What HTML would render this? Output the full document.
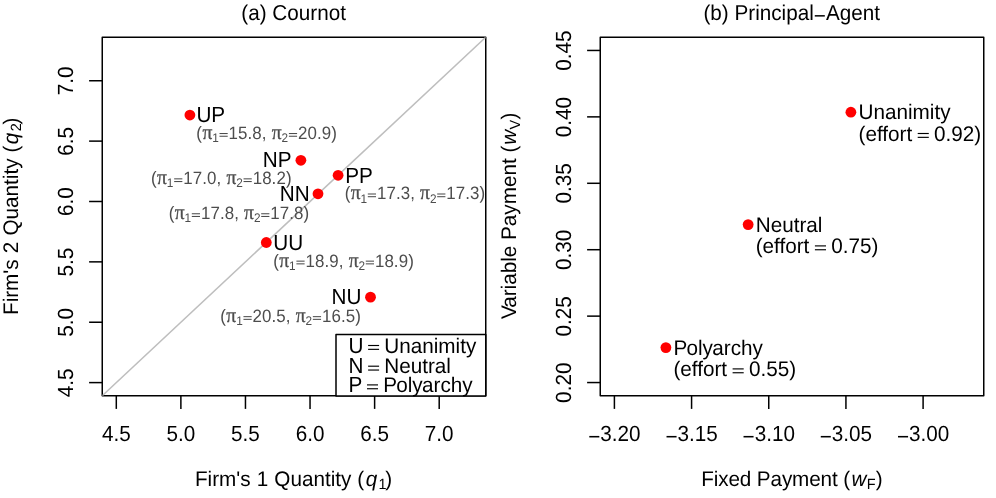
<!DOCTYPE html>
<html><head><meta charset="utf-8"><title>Figure</title>
<style>html,body{margin:0;padding:0;background:#fff;}svg{display:block;}text{font-family:"Liberation Sans",sans-serif;fill:#000;text-rendering:geometricPrecision;filter:grayscale(1);}.g{fill:#4d4d4d;}.pi{font-family:"Liberation Serif",serif;stroke:#4d4d4d;stroke-width:0.3px;}.it{font-style:italic;}</style></head><body>
<svg width="996" height="498" viewBox="0 0 996 498">
<rect x="0" y="0" width="996" height="498" fill="#fff"/>
<line x1="116.30" y1="395.75" x2="116.30" y2="408.90" stroke="#000" stroke-width="1.5" stroke-linecap="butt"/>
<text transform="translate(116.30 440.90) scale(1 1.06)" font-size="20.7" text-anchor="middle">4.5</text>
<line x1="102.25" y1="382.60" x2="89.10" y2="382.60" stroke="#000" stroke-width="1.5" stroke-linecap="butt"/>
<text transform="translate(72.70 382.80) rotate(-90) scale(1 1.06)" font-size="20.7" text-anchor="middle">4.5</text>
<line x1="180.88" y1="395.75" x2="180.88" y2="408.90" stroke="#000" stroke-width="1.5" stroke-linecap="butt"/>
<text transform="translate(180.88 440.90) scale(1 1.06)" font-size="20.7" text-anchor="middle">5.0</text>
<line x1="102.25" y1="322.23" x2="89.10" y2="322.23" stroke="#000" stroke-width="1.5" stroke-linecap="butt"/>
<text transform="translate(72.70 322.43) rotate(-90) scale(1 1.06)" font-size="20.7" text-anchor="middle">5.0</text>
<line x1="245.46" y1="395.75" x2="245.46" y2="408.90" stroke="#000" stroke-width="1.5" stroke-linecap="butt"/>
<text transform="translate(245.46 440.90) scale(1 1.06)" font-size="20.7" text-anchor="middle">5.5</text>
<line x1="102.25" y1="261.86" x2="89.10" y2="261.86" stroke="#000" stroke-width="1.5" stroke-linecap="butt"/>
<text transform="translate(72.70 262.06) rotate(-90) scale(1 1.06)" font-size="20.7" text-anchor="middle">5.5</text>
<line x1="310.04" y1="395.75" x2="310.04" y2="408.90" stroke="#000" stroke-width="1.5" stroke-linecap="butt"/>
<text transform="translate(310.04 440.90) scale(1 1.06)" font-size="20.7" text-anchor="middle">6.0</text>
<line x1="102.25" y1="201.49" x2="89.10" y2="201.49" stroke="#000" stroke-width="1.5" stroke-linecap="butt"/>
<text transform="translate(72.70 201.69) rotate(-90) scale(1 1.06)" font-size="20.7" text-anchor="middle">6.0</text>
<line x1="374.62" y1="395.75" x2="374.62" y2="408.90" stroke="#000" stroke-width="1.5" stroke-linecap="butt"/>
<text transform="translate(374.62 440.90) scale(1 1.06)" font-size="20.7" text-anchor="middle">6.5</text>
<line x1="102.25" y1="141.12" x2="89.10" y2="141.12" stroke="#000" stroke-width="1.5" stroke-linecap="butt"/>
<text transform="translate(72.70 141.32) rotate(-90) scale(1 1.06)" font-size="20.7" text-anchor="middle">6.5</text>
<line x1="439.20" y1="395.75" x2="439.20" y2="408.90" stroke="#000" stroke-width="1.5" stroke-linecap="butt"/>
<text transform="translate(439.20 440.90) scale(1 1.06)" font-size="20.7" text-anchor="middle">7.0</text>
<line x1="102.25" y1="80.75" x2="89.10" y2="80.75" stroke="#000" stroke-width="1.5" stroke-linecap="butt"/>
<text transform="translate(72.70 80.95) rotate(-90) scale(1 1.06)" font-size="20.7" text-anchor="middle">7.0</text>
<rect x="102.25" y="37.25" width="383.50" height="358.50" fill="none" stroke="#000" stroke-width="1.5" stroke-linejoin="round"/>
<clipPath id="cl"><rect x="102.25" y="37.25" width="383.50" height="358.50"/></clipPath>
<line x1="51.72" y1="442.97" x2="568.36" y2="-39.99" stroke="#bebebe" stroke-width="1.5" clip-path="url(#cl)"/>
<circle cx="189.90" cy="115.05" r="5.4" fill="#ff0000"/>
<text transform="translate(196.40 122.40) scale(1 1.06)" font-size="20.7" text-anchor="start">UP</text>
<g transform="translate(196.35 139.00)">
<text transform="scale(1 1.06)" font-size="16.9" class="g" letter-spacing="0.09"><tspan x="0.00" y="0">(</tspan><tspan class="pi" font-size="19.6" x="6.07" y="0">π</tspan><tspan font-size="11.83" x="15.85" y="2.9">1</tspan><tspan x="32.28" y="0">15.8, </tspan><tspan class="pi" font-size="19.6" x="75.46" y="0">π</tspan><tspan font-size="11.83" x="85.24" y="2.9">2</tspan><tspan x="101.67" y="0">20.9)</tspan></text>
<line x1="23.15" y1="-5.45" x2="31.36" y2="-5.45" stroke="#4d4d4d" stroke-width="1.05"/>
<line x1="23.15" y1="-2.75" x2="31.36" y2="-2.75" stroke="#4d4d4d" stroke-width="1.05"/>
<line x1="92.54" y1="-5.45" x2="100.75" y2="-5.45" stroke="#4d4d4d" stroke-width="1.05"/>
<line x1="92.54" y1="-2.75" x2="100.75" y2="-2.75" stroke="#4d4d4d" stroke-width="1.05"/>
</g>
<circle cx="300.90" cy="160.30" r="5.4" fill="#ff0000"/>
<text transform="translate(291.50 167.40) scale(1 1.06)" font-size="20.7" text-anchor="end">NP</text>
<g transform="translate(151.00 184.30)">
<text transform="scale(1 1.06)" font-size="16.9" class="g" letter-spacing="0.09"><tspan x="0.00" y="0">(</tspan><tspan class="pi" font-size="19.6" x="6.07" y="0">π</tspan><tspan font-size="11.83" x="15.85" y="2.9">1</tspan><tspan x="32.28" y="0">17.0, </tspan><tspan class="pi" font-size="19.6" x="75.46" y="0">π</tspan><tspan font-size="11.83" x="85.24" y="2.9">2</tspan><tspan x="101.67" y="0">18.2)</tspan></text>
<line x1="23.15" y1="-5.45" x2="31.36" y2="-5.45" stroke="#4d4d4d" stroke-width="1.05"/>
<line x1="23.15" y1="-2.75" x2="31.36" y2="-2.75" stroke="#4d4d4d" stroke-width="1.05"/>
<line x1="92.54" y1="-5.45" x2="100.75" y2="-5.45" stroke="#4d4d4d" stroke-width="1.05"/>
<line x1="92.54" y1="-2.75" x2="100.75" y2="-2.75" stroke="#4d4d4d" stroke-width="1.05"/>
</g>
<circle cx="338.10" cy="175.30" r="5.4" fill="#ff0000"/>
<text transform="translate(345.20 182.50) scale(1 1.06)" font-size="20.7" text-anchor="start">PP</text>
<g transform="translate(344.65 199.45)">
<text transform="scale(1 1.06)" font-size="16.9" class="g" letter-spacing="0.09"><tspan x="0.00" y="0">(</tspan><tspan class="pi" font-size="19.6" x="6.07" y="0">π</tspan><tspan font-size="11.83" x="15.85" y="2.9">1</tspan><tspan x="32.28" y="0">17.3, </tspan><tspan class="pi" font-size="19.6" x="75.46" y="0">π</tspan><tspan font-size="11.83" x="85.24" y="2.9">2</tspan><tspan x="101.67" y="0">17.3)</tspan></text>
<line x1="23.15" y1="-5.45" x2="31.36" y2="-5.45" stroke="#4d4d4d" stroke-width="1.05"/>
<line x1="23.15" y1="-2.75" x2="31.36" y2="-2.75" stroke="#4d4d4d" stroke-width="1.05"/>
<line x1="92.54" y1="-5.45" x2="100.75" y2="-5.45" stroke="#4d4d4d" stroke-width="1.05"/>
<line x1="92.54" y1="-2.75" x2="100.75" y2="-2.75" stroke="#4d4d4d" stroke-width="1.05"/>
</g>
<circle cx="318.00" cy="193.80" r="5.4" fill="#ff0000"/>
<text transform="translate(309.60 200.80) scale(1 1.06)" font-size="20.7" text-anchor="end">NN</text>
<g transform="translate(168.65 219.20)">
<text transform="scale(1 1.06)" font-size="16.9" class="g" letter-spacing="0.09"><tspan x="0.00" y="0">(</tspan><tspan class="pi" font-size="19.6" x="6.07" y="0">π</tspan><tspan font-size="11.83" x="15.85" y="2.9">1</tspan><tspan x="32.28" y="0">17.8, </tspan><tspan class="pi" font-size="19.6" x="75.46" y="0">π</tspan><tspan font-size="11.83" x="85.24" y="2.9">2</tspan><tspan x="101.67" y="0">17.8)</tspan></text>
<line x1="23.15" y1="-5.45" x2="31.36" y2="-5.45" stroke="#4d4d4d" stroke-width="1.05"/>
<line x1="23.15" y1="-2.75" x2="31.36" y2="-2.75" stroke="#4d4d4d" stroke-width="1.05"/>
<line x1="92.54" y1="-5.45" x2="100.75" y2="-5.45" stroke="#4d4d4d" stroke-width="1.05"/>
<line x1="92.54" y1="-2.75" x2="100.75" y2="-2.75" stroke="#4d4d4d" stroke-width="1.05"/>
</g>
<circle cx="266.30" cy="242.50" r="5.4" fill="#ff0000"/>
<text transform="translate(273.30 250.20) scale(1 1.06)" font-size="20.7" text-anchor="start">UU</text>
<g transform="translate(273.25 266.60)">
<text transform="scale(1 1.06)" font-size="16.9" class="g" letter-spacing="0.09"><tspan x="0.00" y="0">(</tspan><tspan class="pi" font-size="19.6" x="6.07" y="0">π</tspan><tspan font-size="11.83" x="15.85" y="2.9">1</tspan><tspan x="32.28" y="0">18.9, </tspan><tspan class="pi" font-size="19.6" x="75.46" y="0">π</tspan><tspan font-size="11.83" x="85.24" y="2.9">2</tspan><tspan x="101.67" y="0">18.9)</tspan></text>
<line x1="23.15" y1="-5.45" x2="31.36" y2="-5.45" stroke="#4d4d4d" stroke-width="1.05"/>
<line x1="23.15" y1="-2.75" x2="31.36" y2="-2.75" stroke="#4d4d4d" stroke-width="1.05"/>
<line x1="92.54" y1="-5.45" x2="100.75" y2="-5.45" stroke="#4d4d4d" stroke-width="1.05"/>
<line x1="92.54" y1="-2.75" x2="100.75" y2="-2.75" stroke="#4d4d4d" stroke-width="1.05"/>
</g>
<circle cx="370.50" cy="297.15" r="5.4" fill="#ff0000"/>
<text transform="translate(361.40 304.20) scale(1 1.06)" font-size="20.7" text-anchor="end">NU</text>
<g transform="translate(220.30 322.10)">
<text transform="scale(1 1.06)" font-size="16.9" class="g" letter-spacing="0.09"><tspan x="0.00" y="0">(</tspan><tspan class="pi" font-size="19.6" x="6.07" y="0">π</tspan><tspan font-size="11.83" x="15.85" y="2.9">1</tspan><tspan x="32.28" y="0">20.5, </tspan><tspan class="pi" font-size="19.6" x="75.46" y="0">π</tspan><tspan font-size="11.83" x="85.24" y="2.9">2</tspan><tspan x="101.67" y="0">16.5)</tspan></text>
<line x1="23.15" y1="-5.45" x2="31.36" y2="-5.45" stroke="#4d4d4d" stroke-width="1.05"/>
<line x1="23.15" y1="-2.75" x2="31.36" y2="-2.75" stroke="#4d4d4d" stroke-width="1.05"/>
<line x1="92.54" y1="-5.45" x2="100.75" y2="-5.45" stroke="#4d4d4d" stroke-width="1.05"/>
<line x1="92.54" y1="-2.75" x2="100.75" y2="-2.75" stroke="#4d4d4d" stroke-width="1.05"/>
</g>
<rect x="336.0" y="334.4" width="149.75" height="61.60" fill="#fff" stroke="#000" stroke-width="1.5" stroke-linejoin="round"/>
<text transform="translate(348.40 352.50) scale(1 1.06)" font-size="20.7" text-anchor="start">U</text>
<line x1="368.10" y1="345.50" x2="379.10" y2="345.50" stroke="#000" stroke-width="1.15"/>
<line x1="368.10" y1="349.35" x2="379.10" y2="349.35" stroke="#000" stroke-width="1.15"/>
<text transform="translate(384.25 352.50) scale(1 1.02)" font-size="20.7" text-anchor="start">Unanimity</text>
<text transform="translate(348.40 373.20) scale(1 1.06)" font-size="20.7" text-anchor="start">N</text>
<line x1="368.10" y1="366.20" x2="379.10" y2="366.20" stroke="#000" stroke-width="1.15"/>
<line x1="368.10" y1="370.05" x2="379.10" y2="370.05" stroke="#000" stroke-width="1.15"/>
<text transform="translate(384.25 373.20) scale(1 1.02)" font-size="20.7" text-anchor="start">Neutral</text>
<text transform="translate(348.40 391.90) scale(1 1.06)" font-size="20.7" text-anchor="start">P</text>
<line x1="367.00" y1="384.90" x2="378.00" y2="384.90" stroke="#000" stroke-width="1.15"/>
<line x1="367.00" y1="388.75" x2="378.00" y2="388.75" stroke="#000" stroke-width="1.15"/>
<text transform="translate(383.15 391.90) scale(1 1.02)" font-size="20.7" text-anchor="start">P<tspan dx="-0.8">oly</tspan><tspan dx="-0.5">archy</tspan></text>
<text transform="translate(293.60 20.10) scale(1 1.04)" font-size="20.7" text-anchor="middle">(a) Cournot</text>
<text transform="translate(194.90 485.70) scale(1 1.02)" font-size="20.7" text-anchor="start">Firm's <tspan dx="0.4">1 </tspan><tspan dx="0.4">Quantity </tspan><tspan dx="0.2">(</tspan><tspan class="it" dx="1.4">q</tspan><tspan font-size="14.49" dy="3.6" dx="1.4">1</tspan><tspan dy="-3.6" dx="-1.3">)</tspan></text>
<text transform="translate(17.80 315.00) rotate(-90) scale(1 1.02)" font-size="20.7" text-anchor="start">Firm's <tspan dx="0.4">2 </tspan><tspan dx="0.4">Quantity </tspan><tspan dx="0.2">(</tspan><tspan class="it" dx="1.4">q</tspan><tspan font-size="14.49" dy="3.6" dx="1.4">2</tspan><tspan dy="-3.6" dx="-1.3">)</tspan></text>
<line x1="614.40" y1="395.75" x2="614.40" y2="408.90" stroke="#000" stroke-width="1.5" stroke-linecap="butt"/>
<text transform="translate(614.40 440.90) scale(1 1.06)" font-size="20.7" text-anchor="middle"><tspan dy="2.9">−</tspan><tspan dy="-2.9">3.20</tspan></text>
<line x1="691.58" y1="395.75" x2="691.58" y2="408.90" stroke="#000" stroke-width="1.5" stroke-linecap="butt"/>
<text transform="translate(691.58 440.90) scale(1 1.06)" font-size="20.7" text-anchor="middle"><tspan dy="2.9">−</tspan><tspan dy="-2.9">3.15</tspan></text>
<line x1="768.75" y1="395.75" x2="768.75" y2="408.90" stroke="#000" stroke-width="1.5" stroke-linecap="butt"/>
<text transform="translate(768.75 440.90) scale(1 1.06)" font-size="20.7" text-anchor="middle"><tspan dy="2.9">−</tspan><tspan dy="-2.9">3.10</tspan></text>
<line x1="845.93" y1="395.75" x2="845.93" y2="408.90" stroke="#000" stroke-width="1.5" stroke-linecap="butt"/>
<text transform="translate(845.93 440.90) scale(1 1.06)" font-size="20.7" text-anchor="middle"><tspan dy="2.9">−</tspan><tspan dy="-2.9">3.05</tspan></text>
<line x1="923.10" y1="395.75" x2="923.10" y2="408.90" stroke="#000" stroke-width="1.5" stroke-linecap="butt"/>
<text transform="translate(923.10 440.90) scale(1 1.06)" font-size="20.7" text-anchor="middle"><tspan dy="2.9">−</tspan><tspan dy="-2.9">3.00</tspan></text>
<line x1="600.25" y1="382.55" x2="587.10" y2="382.55" stroke="#000" stroke-width="1.5" stroke-linecap="butt"/>
<text transform="translate(570.90 382.75) rotate(-90) scale(1 1.06)" font-size="20.7" text-anchor="middle">0.20</text>
<line x1="600.25" y1="316.13" x2="587.10" y2="316.13" stroke="#000" stroke-width="1.5" stroke-linecap="butt"/>
<text transform="translate(570.90 316.33) rotate(-90) scale(1 1.06)" font-size="20.7" text-anchor="middle">0.25</text>
<line x1="600.25" y1="249.71" x2="587.10" y2="249.71" stroke="#000" stroke-width="1.5" stroke-linecap="butt"/>
<text transform="translate(570.90 249.91) rotate(-90) scale(1 1.06)" font-size="20.7" text-anchor="middle">0.30</text>
<line x1="600.25" y1="183.29" x2="587.10" y2="183.29" stroke="#000" stroke-width="1.5" stroke-linecap="butt"/>
<text transform="translate(570.90 183.49) rotate(-90) scale(1 1.06)" font-size="20.7" text-anchor="middle">0.35</text>
<line x1="600.25" y1="116.87" x2="587.10" y2="116.87" stroke="#000" stroke-width="1.5" stroke-linecap="butt"/>
<text transform="translate(570.90 117.07) rotate(-90) scale(1 1.06)" font-size="20.7" text-anchor="middle">0.40</text>
<line x1="600.25" y1="50.45" x2="587.10" y2="50.45" stroke="#000" stroke-width="1.5" stroke-linecap="butt"/>
<text transform="translate(570.90 50.65) rotate(-90) scale(1 1.06)" font-size="20.7" text-anchor="middle">0.45</text>
<rect x="600.25" y="37.25" width="383.50" height="358.50" fill="none" stroke="#000" stroke-width="1.5" stroke-linejoin="round"/>
<circle cx="850.90" cy="112.20" r="5.4" fill="#ff0000"/>
<text transform="translate(858.50 119.30) scale(1 1.02)" font-size="20.7" text-anchor="start">Unanimity</text>
<text transform="translate(858.50 140.50) scale(1 1.02)" font-size="20.7" text-anchor="start">(effort</text>
<line x1="917.70" y1="133.50" x2="928.80" y2="133.50" stroke="#000" stroke-width="1.15"/>
<line x1="917.70" y1="137.35" x2="928.80" y2="137.35" stroke="#000" stroke-width="1.15"/>
<text transform="translate(934.10 140.50) scale(1 1.02)" font-size="20.7" text-anchor="start">0.92)</text>
<circle cx="748.15" cy="224.60" r="5.4" fill="#ff0000"/>
<text transform="translate(755.70 231.70) scale(1 1.02)" font-size="20.7" text-anchor="start">Neutral</text>
<text transform="translate(755.70 252.90) scale(1 1.02)" font-size="20.7" text-anchor="start">(effort</text>
<line x1="814.90" y1="245.90" x2="826.00" y2="245.90" stroke="#000" stroke-width="1.15"/>
<line x1="814.90" y1="249.75" x2="826.00" y2="249.75" stroke="#000" stroke-width="1.15"/>
<text transform="translate(831.30 252.90) scale(1 1.02)" font-size="20.7" text-anchor="start">0.75)</text>
<circle cx="665.90" cy="347.60" r="5.4" fill="#ff0000"/>
<text transform="translate(673.40 354.70) scale(1 1.02)" font-size="20.7" text-anchor="start">P<tspan dx="-0.8">oly</tspan><tspan dx="-0.5">archy</tspan></text>
<text transform="translate(673.40 375.90) scale(1 1.02)" font-size="20.7" text-anchor="start">(effort</text>
<line x1="732.60" y1="368.90" x2="743.70" y2="368.90" stroke="#000" stroke-width="1.15"/>
<line x1="732.60" y1="372.75" x2="743.70" y2="372.75" stroke="#000" stroke-width="1.15"/>
<text transform="translate(749.00 375.90) scale(1 1.02)" font-size="20.7" text-anchor="start">0.55)</text>
<text transform="translate(791.70 20.10) scale(1 1.04)" font-size="20.7" text-anchor="middle">(b) Principal<tspan dy="2.7">−</tspan><tspan dy="-2.7">Agent</tspan></text>
<text transform="translate(701.20 485.70) scale(1 1.02)" font-size="20.7" text-anchor="start"><tspan letter-spacing="-0.12">Fixed Payment (</tspan><tspan class="it" dx="1.4">w</tspan><tspan font-size="14.49" dy="3.6" dx="0.3">F</tspan><tspan dy="-3.6" dx="0.3">)</tspan></text>
<text transform="translate(516.00 318.90) rotate(-90) scale(1 1.02)" font-size="20.7" text-anchor="start">V<tspan dx="-1.2">ariable Payment (</tspan><tspan class="it" dx="1.0">w</tspan><tspan font-size="14.49" dy="3.6" dx="0.3">V</tspan><tspan dy="-3.6" dx="0.3">)</tspan></text>
</svg></body></html>
